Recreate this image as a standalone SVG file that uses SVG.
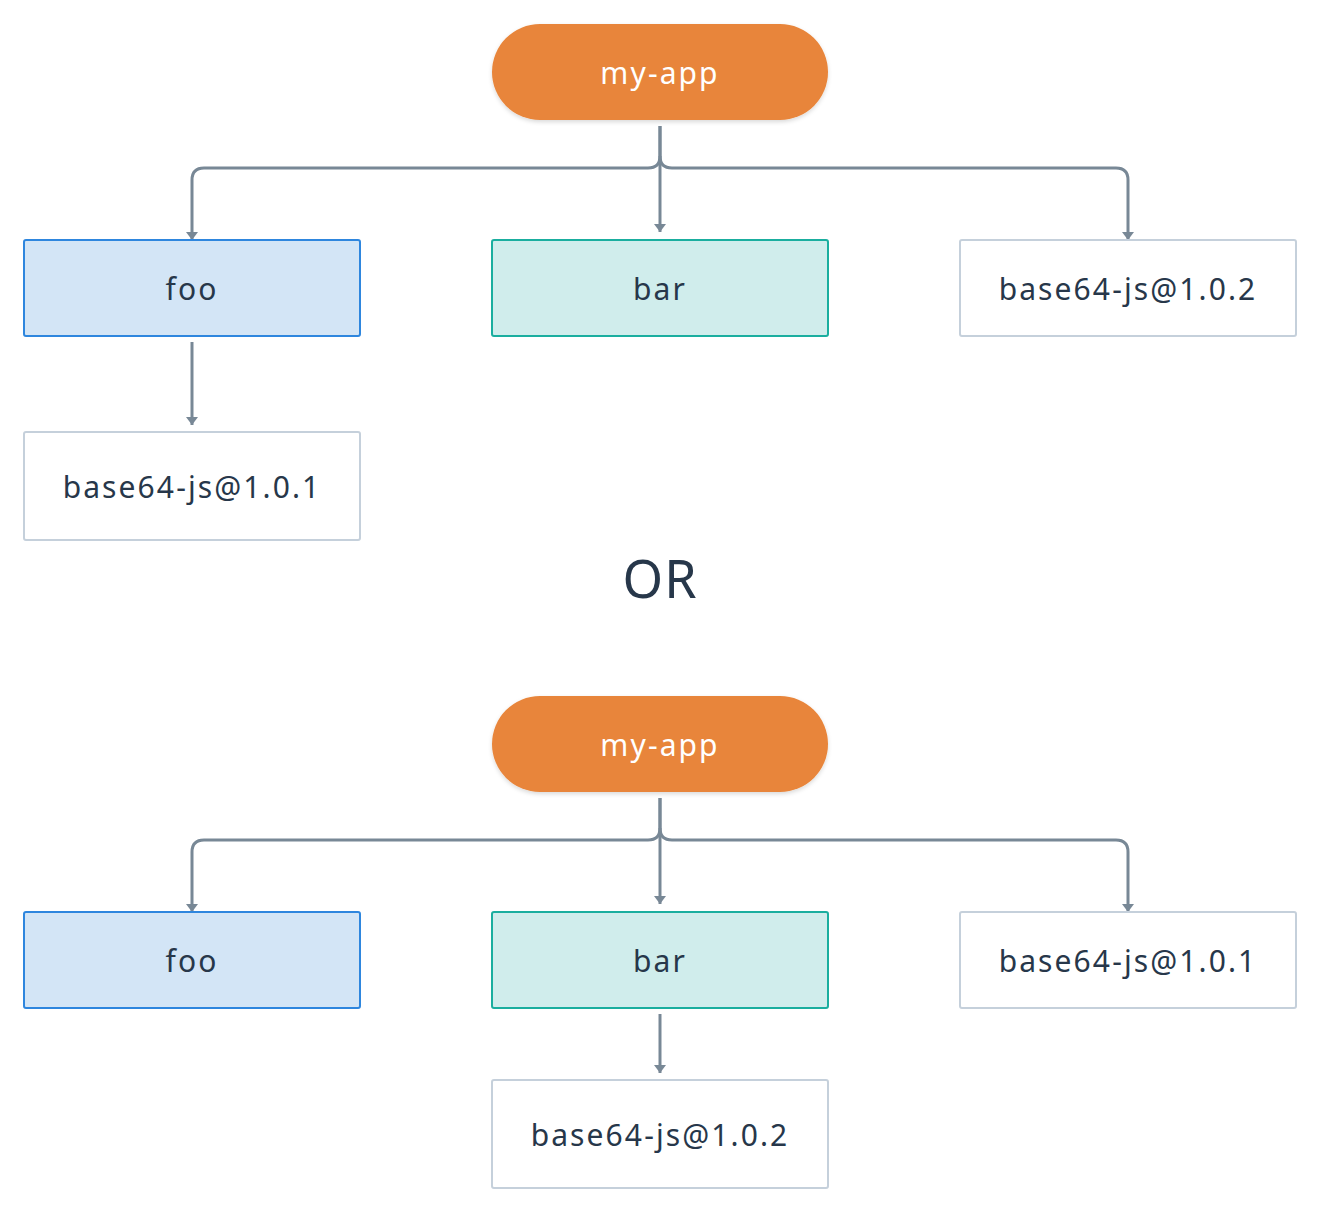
<svg xmlns="http://www.w3.org/2000/svg" width="1320" height="1212" viewBox="0 0 1320 1212">
<style>
text{font-family:"Noto Sans","DejaVu Sans",sans-serif;text-anchor:middle;dominant-baseline:central;letter-spacing:2.1px}
.lbl{font-size:30px;fill:#27374A}
.app{font-size:30px;fill:#FFFFFF}
.pill{fill:#E8853A}
.foo{fill:#D3E5F6;stroke:#2E86DE;stroke-width:2}
.bar{fill:#D0EDEC;stroke:#1AAE9F;stroke-width:2}
.pkg{fill:#FFFFFF;stroke:#C5D0DB;stroke-width:2}
.edge{fill:none;stroke:#788896;stroke-width:3}
</style>
<defs>
<marker id="ah" viewBox="0 0 12 8" refX="6" refY="8" markerWidth="12" markerHeight="8" markerUnits="userSpaceOnUse">
<path d="M0,0 L12,0 L6,8 Z" fill="#788896"/>
</marker>
<filter id="sh" x="-10%" y="-20%" width="120%" height="150%">
<feDropShadow dx="0" dy="2" stdDeviation="2" flood-color="#000" flood-opacity="0.15"/>
</filter>
</defs>

<g id="connectors">
<path class="edge" d="M660,126 V156 Q660,168 648,168 H204 Q192,168 192,180 V240" marker-end="url(#ah)"/>
<path class="edge" d="M660,126 V232" marker-end="url(#ah)"/>
<path class="edge" d="M660,156 Q660,168 672,168 H1116 Q1128,168 1128,180 V240" marker-end="url(#ah)"/>
<path class="edge" d="M192,342 V425" marker-end="url(#ah)"/>
<path class="edge" d="M660,798 V828 Q660,840 648,840 H204 Q192,840 192,852 V912" marker-end="url(#ah)"/>
<path class="edge" d="M660,798 V904" marker-end="url(#ah)"/>
<path class="edge" d="M660,828 Q660,840 672,840 H1116 Q1128,840 1128,852 V912" marker-end="url(#ah)"/>
<path class="edge" d="M660,1014 V1073" marker-end="url(#ah)"/>
</g>

<g id="app1"><rect class="pill" x="492" y="24" width="336" height="96" rx="48" filter="url(#sh)"/><text class="app" x="660" y="72">my-app</text></g>
<g id="foo1"><rect class="foo" x="24" y="240" width="336" height="96" rx="2"/><text class="lbl" x="192" y="288">foo</text></g>
<g id="bar1"><rect class="bar" x="492" y="240" width="336" height="96" rx="2"/><text class="lbl" x="660" y="288">bar</text></g>
<g id="b64_102_top"><rect class="pkg" x="960" y="240" width="336" height="96" rx="2"/><text class="lbl" x="1128" y="288">base64-js@1.0.2</text></g>
<g id="b64_101_top"><rect class="pkg" x="24" y="432" width="336" height="108" rx="2"/><text class="lbl" x="192" y="486">base64-js@1.0.1</text></g>

<g id="or"><text x="660" y="577" style="font-size:52px;fill:#27374A;letter-spacing:1px">OR</text></g>

<g id="app2"><rect class="pill" x="492" y="696" width="336" height="96" rx="48" filter="url(#sh)"/><text class="app" x="660" y="744">my-app</text></g>
<g id="foo2"><rect class="foo" x="24" y="912" width="336" height="96" rx="2"/><text class="lbl" x="192" y="960">foo</text></g>
<g id="bar2"><rect class="bar" x="492" y="912" width="336" height="96" rx="2"/><text class="lbl" x="660" y="960">bar</text></g>
<g id="b64_101_bot"><rect class="pkg" x="960" y="912" width="336" height="96" rx="2"/><text class="lbl" x="1128" y="960">base64-js@1.0.1</text></g>
<g id="b64_102_bot"><rect class="pkg" x="492" y="1080" width="336" height="108" rx="2"/><text class="lbl" x="660" y="1134">base64-js@1.0.2</text></g>
</svg>
